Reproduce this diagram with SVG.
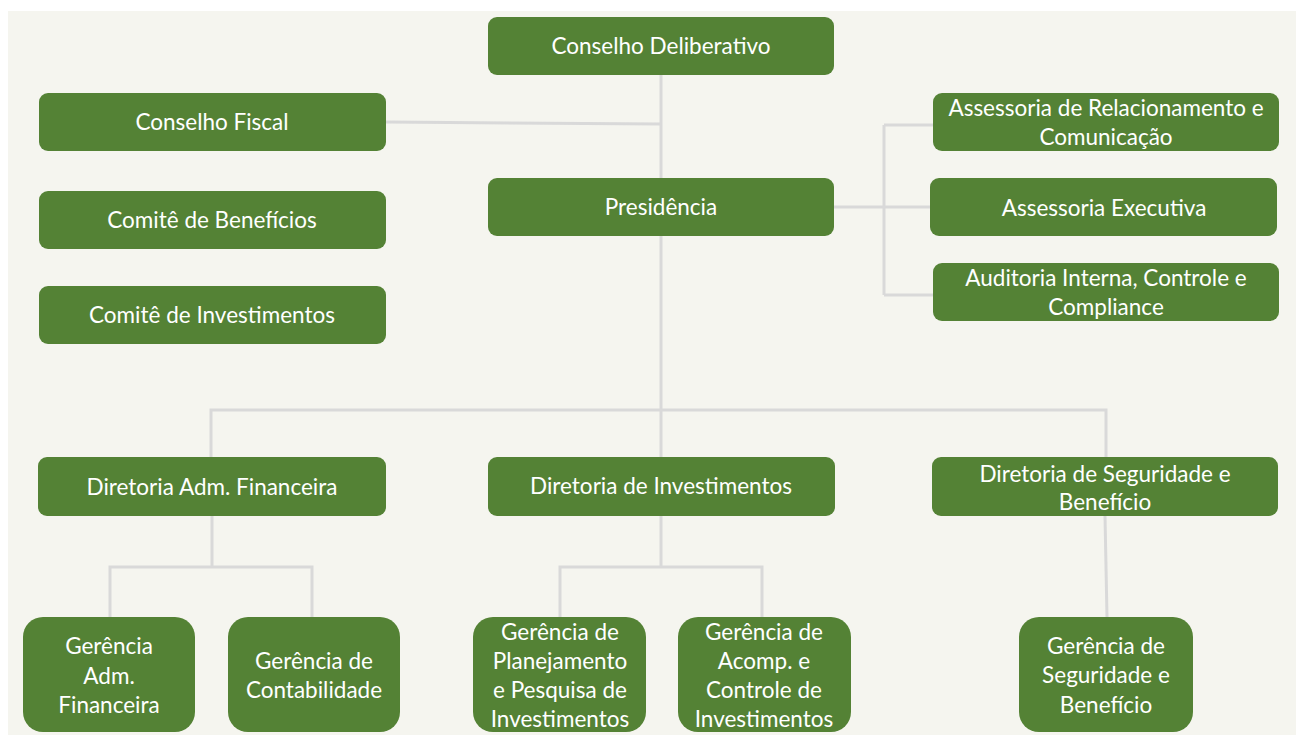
<svg xmlns="http://www.w3.org/2000/svg" width="1296" height="735" viewBox="0 0 1296 735">
<style>
.n{fill:#548235}
.t{fill:#ffffff;font-family:Lato,"Liberation Sans",sans-serif;font-size:22.5px;text-anchor:middle}
.c{fill:none;stroke:#d9d9d9;stroke-width:3}
</style>
<rect x="0" y="0" width="1296" height="735" fill="#ffffff"/>
<rect x="8" y="11" width="1288" height="724" fill="#f5f5ef"/>
<g id="connectors" class="c">
<path d="M661 75 V410"/>
<path d="M386 122 L661 124"/>
<path d="M834 207 H930"/>
<path d="M884 125 V295"/>
<path d="M884 125 H933"/>
<path d="M884 295 H933"/>
<path d="M211 457 V410 H1106 V457"/>
<path d="M661 410 V457"/>
<path d="M212 516 V567"/>
<path d="M110 617 V567 H312 V617"/>
<path d="M661 516 V567"/>
<path d="M560 617 V567 H762 V617"/>
<path d="M1105 516 L1107 617"/>
</g>
<g id="conselho-deliberativo"><rect class="n" x="488" y="17" width="346" height="58" rx="9"/><text class="t" x="661" y="54">Conselho Deliberativo</text></g>
<g id="conselho-fiscal"><rect class="n" x="39" y="93" width="347" height="58" rx="9"/><text class="t" x="212" y="130">Conselho Fiscal</text></g>
<g id="comite-beneficios"><rect class="n" x="39" y="191" width="347" height="58" rx="9"/><text class="t" x="212" y="228">Comitê de Benefícios</text></g>
<g id="comite-investimentos"><rect class="n" x="39" y="286" width="347" height="58" rx="9"/><text class="t" x="212" y="323">Comitê de Investimentos</text></g>
<g id="presidencia"><rect class="n" x="488" y="178" width="346" height="58" rx="9"/><text class="t" x="661" y="215">Presidência</text></g>
<g id="assessoria-relacionamento"><rect class="n" x="933" y="93" width="346" height="58" rx="9"/><text class="t" x="1106" y="116">Assessoria de Relacionamento e</text><text class="t" x="1106" y="145">Comunicação</text></g>
<g id="assessoria-executiva"><rect class="n" x="930" y="178" width="347" height="58" rx="9"/><text class="t" x="1104" y="216">Assessoria Executiva</text></g>
<g id="auditoria"><rect class="n" x="933" y="263" width="346" height="58" rx="9"/><text class="t" x="1106" y="286">Auditoria Interna, Controle e</text><text class="t" x="1106" y="315">Compliance</text></g>
<g id="diretoria-adm"><rect class="n" x="38" y="457" width="348" height="59" rx="9"/><text class="t" x="212" y="495">Diretoria Adm. Financeira</text></g>
<g id="diretoria-investimentos"><rect class="n" x="488" y="457" width="347" height="59" rx="9"/><text class="t" x="661" y="494">Diretoria de Investimentos</text></g>
<g id="diretoria-seguridade"><rect class="n" x="932" y="457" width="346" height="59" rx="9"/><text class="t" x="1105" y="482">Diretoria de Seguridade e</text><text class="t" x="1105" y="510">Benefício</text></g>
<g id="gerencia-adm"><rect class="n" x="23" y="617" width="172" height="115" rx="20"/><text class="t" x="109" y="654">Gerência</text><text class="t" x="109" y="684">Adm.</text><text class="t" x="109" y="713">Financeira</text></g>
<g id="gerencia-contabilidade"><rect class="n" x="228" y="617" width="172" height="115" rx="20"/><text class="t" x="314" y="669">Gerência de</text><text class="t" x="314" y="698">Contabilidade</text></g>
<g id="gerencia-planejamento"><rect class="n" x="473" y="617" width="173" height="115" rx="20"/><text class="t" x="560" y="640">Gerência de</text><text class="t" x="560" y="669">Planejamento</text><text class="t" x="560" y="698">e Pesquisa de</text><text class="t" x="560" y="727">Investimentos</text></g>
<g id="gerencia-acomp"><rect class="n" x="678" y="617" width="173" height="115" rx="20"/><text class="t" x="764" y="640">Gerência de</text><text class="t" x="764" y="669">Acomp. e</text><text class="t" x="764" y="698">Controle de</text><text class="t" x="764" y="727">Investimentos</text></g>
<g id="gerencia-seguridade"><rect class="n" x="1019" y="617" width="174" height="115" rx="20"/><text class="t" x="1106" y="654">Gerência de</text><text class="t" x="1106" y="683">Seguridade e</text><text class="t" x="1106" y="713">Benefício</text></g>
</svg>
